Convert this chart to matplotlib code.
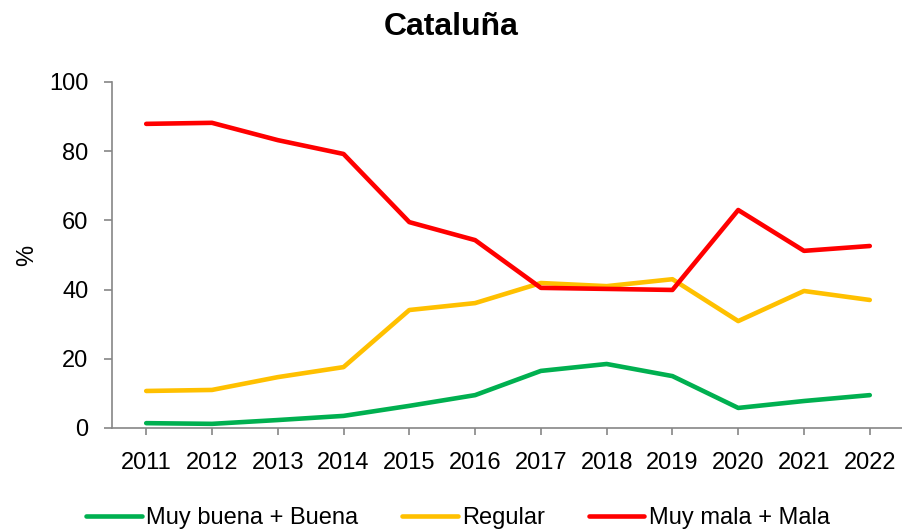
import matplotlib
matplotlib.use('Agg')
import matplotlib.pyplot as plt

plt.rcParams['font.family'] = ['Liberation Sans', 'DejaVu Sans']

# --- Datos ---
years = ['2011', '2012', '2013', '2014', '2015', '2016',
         '2017', '2018', '2019', '2020', '2021', '2022']
buena = [1.4, 1.2, 2.3, 3.5, 6.4, 9.5, 16.5, 18.5, 15.0, 5.8, 7.8, 9.5]
regular = [10.7, 11.0, 14.7, 17.6, 34.1, 36.1, 41.9, 41.0, 43.0, 30.9, 39.6, 37.0]
mala = [87.9, 88.2, 83.2, 79.2, 59.5, 54.3, 40.5, 40.2, 39.9, 63.0, 51.2, 52.6]

fig = plt.figure(figsize=(9.02, 5.32), dpi=100)
ax = fig.add_axes([112 / 902, 1 - 428 / 532, 1 - 112 / 902, (428 - 82) / 532])

x = range(len(years))
ax.plot(x, buena, color='#00B050', linewidth=3.3, solid_capstyle='round',
        label='Muy buena + Buena')
ax.plot(x, regular, color='#FFC000', linewidth=3.3, solid_capstyle='round',
        label='Regular')
ax.plot(x, mala, color='#FF0000', linewidth=3.3, solid_capstyle='round',
        label='Muy mala + Mala')

ax.set_xlim(-0.52, 11.49)
ax.set_ylim(0, 100)
ax.set_xticks(list(x))
ax.set_xticklabels(years)
ax.set_yticks([0, 20, 40, 60, 80, 100])
ax.set_ylabel('%', fontsize=17, labelpad=8)

for s in ['top', 'right']:
    ax.spines[s].set_visible(False)
for s in ['left', 'bottom']:
    ax.spines[s].set_color('#868686')
    ax.spines[s].set_linewidth(1.2)
ax.tick_params(axis='both', colors='#868686', labelcolor='black',
               labelsize=17, width=1.2)
ax.tick_params(axis='x', length=5, pad=12)
ax.tick_params(axis='y', length=6, pad=11)

fig.suptitle('Cataluña', fontsize=23, fontweight='bold', y=1 - 27 / 532, va='center')

fig.legend(loc='center', bbox_to_anchor=(0.508, 1 - 518 / 532), ncol=3,
           frameon=False, fontsize=17, handlelength=2.35, handletextpad=0.2,
           columnspacing=1.85)

fig.savefig('out.png', dpi=100)
